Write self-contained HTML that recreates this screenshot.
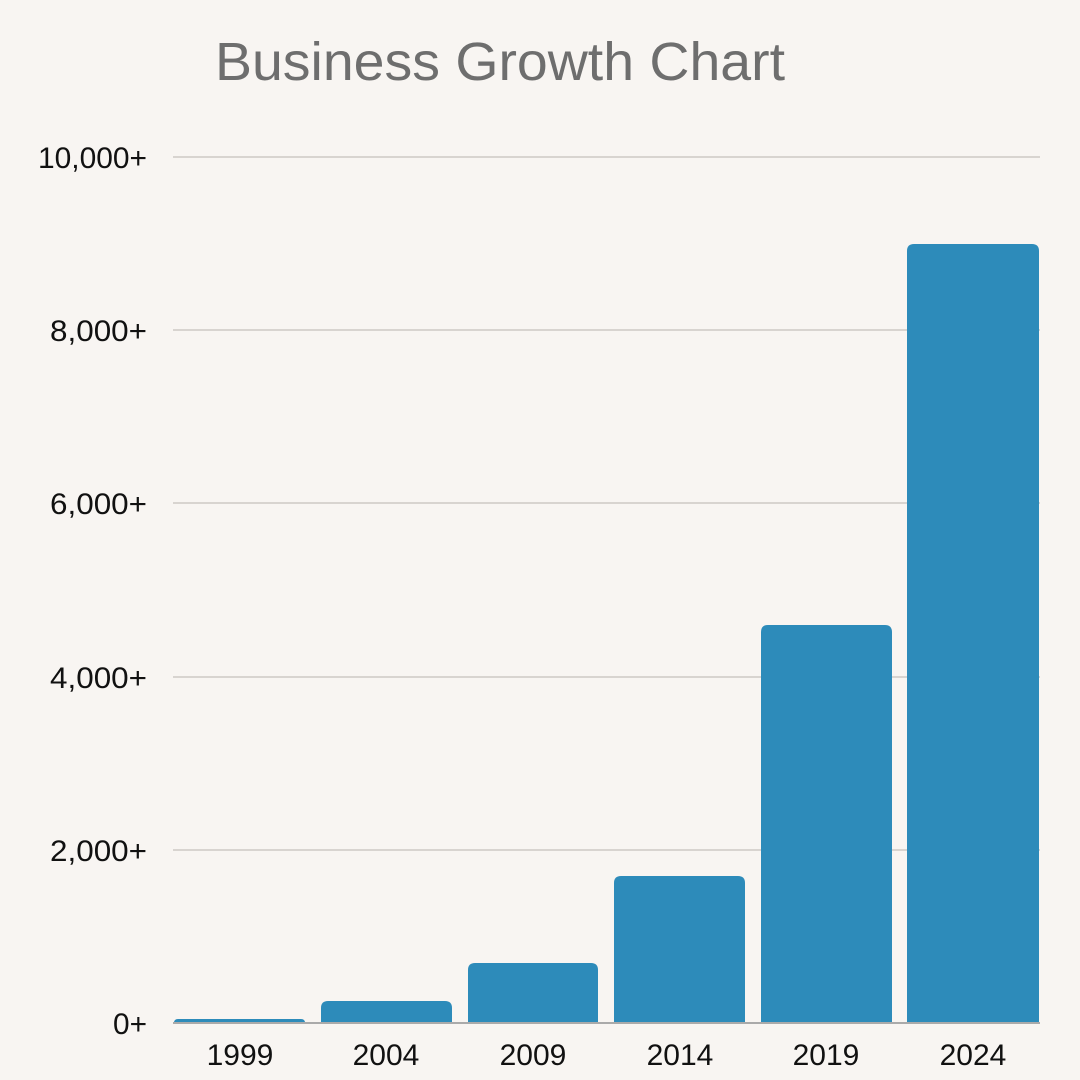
<!DOCTYPE html>
<html><head><meta charset="utf-8"><style>
html,body{margin:0;padding:0;background:#f8f5f2;}
svg{display:block}
</style></head><body>
<svg width="1080" height="1080" viewBox="0 0 1080 1080" xmlns="http://www.w3.org/2000/svg">
<rect width="1080" height="1080" fill="#f8f5f2"/>
<text x="215" y="80" font-family="Liberation Sans, sans-serif" font-size="54" fill="#6e6e6e" textLength="570" lengthAdjust="spacingAndGlyphs">Business Growth Chart</text>
<g stroke="#c4c0bc" stroke-width="1.3">
<line x1="173" y1="157" x2="1040" y2="157"/>
<line x1="173" y1="330" x2="1040" y2="330"/>
<line x1="173" y1="503" x2="1040" y2="503"/>
<line x1="173" y1="677" x2="1040" y2="677"/>
<line x1="173" y1="850" x2="1040" y2="850"/>
</g>
<g font-family="Liberation Sans, sans-serif" font-size="30" fill="#111" lengthAdjust="spacingAndGlyphs">
<text x="38" y="168" textLength="109" lengthAdjust="spacingAndGlyphs">10,000+</text>
<text x="50" y="341" textLength="97" lengthAdjust="spacingAndGlyphs">8,000+</text>
<text x="50" y="514" textLength="97" lengthAdjust="spacingAndGlyphs">6,000+</text>
<text x="50" y="688" textLength="97" lengthAdjust="spacingAndGlyphs">4,000+</text>
<text x="50" y="861" textLength="97" lengthAdjust="spacingAndGlyphs">2,000+</text>
<text x="113" y="1034" textLength="34" lengthAdjust="spacingAndGlyphs">0+</text>
</g>
<g fill="#2d8bba">
<path d="M174,1023 V1023 Q174,1019 178,1019 H301 Q305,1019 305,1023 Z"/>
<path d="M321,1023 V1008 Q321,1001 328,1001 H445 Q452,1001 452,1008 V1023 Z"/>
<path d="M468,1023 V970 Q468,963 475,963 H591 Q598,963 598,970 V1023 Z"/>
<path d="M614,1023 V883 Q614,876 621,876 H738 Q745,876 745,883 V1023 Z"/>
<path d="M761,1023 V632 Q761,625 768,625 H885 Q892,625 892,632 V1023 Z"/>
<path d="M907,1023 V251 Q907,244 914,244 H1032 Q1039,244 1039,251 V1023 Z"/>
</g>
<line x1="173" y1="1023" x2="1040" y2="1023" stroke="#aaa" stroke-width="2"/>
<g font-family="Liberation Sans, sans-serif" font-size="30" fill="#111" text-anchor="middle">
<text x="240" y="1065">1999</text>
<text x="386" y="1065">2004</text>
<text x="533" y="1065">2009</text>
<text x="680" y="1065">2014</text>
<text x="826" y="1065">2019</text>
<text x="973" y="1065">2024</text>
</g>
</svg>
</body></html>
